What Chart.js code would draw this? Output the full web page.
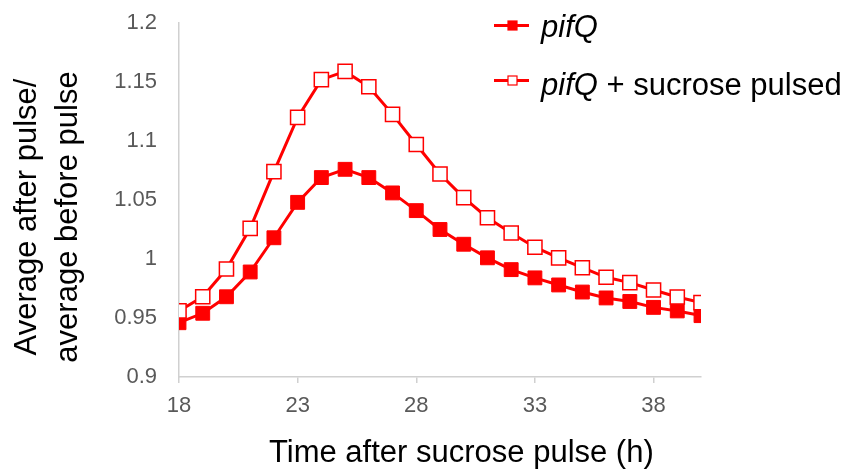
<!DOCTYPE html>
<html>
<head>
<meta charset="utf-8">
<script src="https://cdn.jsdelivr.net/npm/chart.js@4/dist/chart.umd.min.js"></script>
<style>
  html, body { margin: 0; padding: 0; background: #fff; }
  #wrap { width: 854px; height: 470px; }
</style>
</head>
<body>
<div id="wrap"><canvas id="chart" width="854" height="470"></canvas></div>
<script>
// ── Data ──
const hours       = [18, 19, 20, 21, 22, 23, 24, 25, 26, 27, 28, 29, 30, 31, 32, 33, 34, 35, 36, 37, 38, 39, 40];
const pifQ        = [0.946, 0.954, 0.968, 0.989, 1.018, 1.048, 1.069, 1.076, 1.069, 1.056, 1.041, 1.025,
                     1.0125, 1.001, 0.991, 0.984, 0.978, 0.972, 0.967, 0.964, 0.959, 0.956, 0.952];
const pifQSucrose = [0.956, 0.968, 0.9915, 1.026, 1.074, 1.120, 1.152, 1.159, 1.146, 1.1226, 1.097, 1.072,
                     1.052, 1.035, 1.022, 1.010, 1.001, 0.9926, 0.9845, 0.980, 0.9737, 0.9678, 0.963];
const xTicks      = [18, 23, 28, 33, 38];
const seriesNames = ["pifQ", "pifQ + sucrose pulsed"];
const xTitle      = "Time after sucrose pulse (h)";
const yTitle      = ["Average after pulse/", "average before pulse"];

const FONT = '"Liberation Sans", Arial, sans-serif';
const RED  = "#ff0000";

const toPoints = vals => hours.map((h, i) => ({ x: h, y: vals[i] }));

// ── Titles + legend (mixed italic text, so drawn by hand) ──
const labelsPlugin = {
  id: "labels",
  afterDraw(chart) {
    const ctx = chart.ctx;
    ctx.save();
    ctx.fillStyle = "#000";
    ctx.font = `31px ${FONT}`;
    ctx.textBaseline = "alphabetic";

    // x title
    ctx.textAlign = "left";
    ctx.fillText(xTitle, 269, 462);

    // y title, two rotated lines
    ctx.save();
    ctx.translate(36, 217);
    ctx.rotate(-Math.PI / 2);
    ctx.textAlign = "center";
    ctx.fillText(yTitle[0], 0, 0);
    ctx.fillText(yTitle[1], 0, 41);
    ctx.restore();

    // legend, in series order
    const byLabel = name => chart.data.datasets.find(d => d.label === name);
    const rows = [
      { lineY: 25.5, baseY: 37, ds: byLabel(seriesNames[0]) },
      { lineY: 80.5, baseY: 95, ds: byLabel(seriesNames[1]) },
    ];
    rows.forEach(r => {
      ctx.strokeStyle = RED;
      ctx.lineWidth = 3;
      ctx.beginPath();
      ctx.moveTo(494, r.lineY);
      ctx.lineTo(529, r.lineY);
      ctx.stroke();
      ctx.fillStyle = r.ds.pointBackgroundColor;
      ctx.fillRect(508, r.lineY - 4.5, 9, 9);
      ctx.lineWidth = 1.2;
      ctx.strokeRect(508, r.lineY - 4.5, 9, 9);

      const label = r.ds.label;
      const ital  = "pifQ";
      const rest  = label.slice(ital.length);
      ctx.fillStyle = "#000";
      ctx.textAlign = "left";
      ctx.font = `italic 31px ${FONT}`;
      ctx.fillText(ital, 541, r.baseY);
      const w = ctx.measureText(ital).width;
      ctx.font = `31px ${FONT}`;
      if (rest) ctx.fillText(rest, 541 + w, r.baseY);
    });
    ctx.restore();
  },
};

new Chart(document.getElementById("chart").getContext("2d"), {
  type: "line",
  data: {
    datasets: [
      {
        label: seriesNames[1],
        data: toPoints(pifQSucrose),
        borderColor: RED,
        borderWidth: 3,
        pointStyle: "rect",
        pointRadius: 10,
        pointBackgroundColor: "#ffffff",
        pointBorderColor: RED,
        pointBorderWidth: 1.5,
        tension: 0,
      },
      {
        label: seriesNames[0],
        data: toPoints(pifQ),
        borderColor: RED,
        borderWidth: 3,
        pointStyle: "rect",
        pointRadius: 9.8,
        pointBackgroundColor: RED,
        pointBorderColor: RED,
        pointBorderWidth: 1,
        tension: 0,
      },
    ],
  },
  options: {
    responsive: false,
    animation: false,
    layout: { padding: { left: 79, right: 153, top: 23, bottom: 33 } },
    plugins: { legend: { display: false }, tooltip: { enabled: false } },
    scales: {
      x: {
        type: "linear",
        min: 18, max: 40,
        afterBuildTicks: axis => { axis.ticks = xTicks.map(v => ({ value: v })); },
        afterFit: s => { s.height = 60; },
        grid: { display: true, drawOnChartArea: false, drawTicks: true, tickLength: 6, color: "#d0d0d0", lineWidth: 1.5 },
        border: { display: true, color: "#d0d0d0", width: 1.5 },
        ticks: { color: "#595959", font: { family: FONT, size: 22 }, padding: 10, maxRotation: 0 },
      },
      y: {
        min: 0.9, max: 1.2,
        afterFit: s => { s.width = 100; },
        // no visible tick marks; tickLength only sets the label gap
        grid: { display: false, drawTicks: true, tickLength: 18 },
        border: { display: true, color: "#d0d0d0", width: 1.5 },
        ticks: {
          stepSize: 0.05,
          color: "#595959",
          font: { family: FONT, size: 22 },
          padding: 4,
          callback: v => String(+v.toFixed(2)),
        },
      },
    },
  },
  plugins: [labelsPlugin],
});
</script>
</body>
</html>
